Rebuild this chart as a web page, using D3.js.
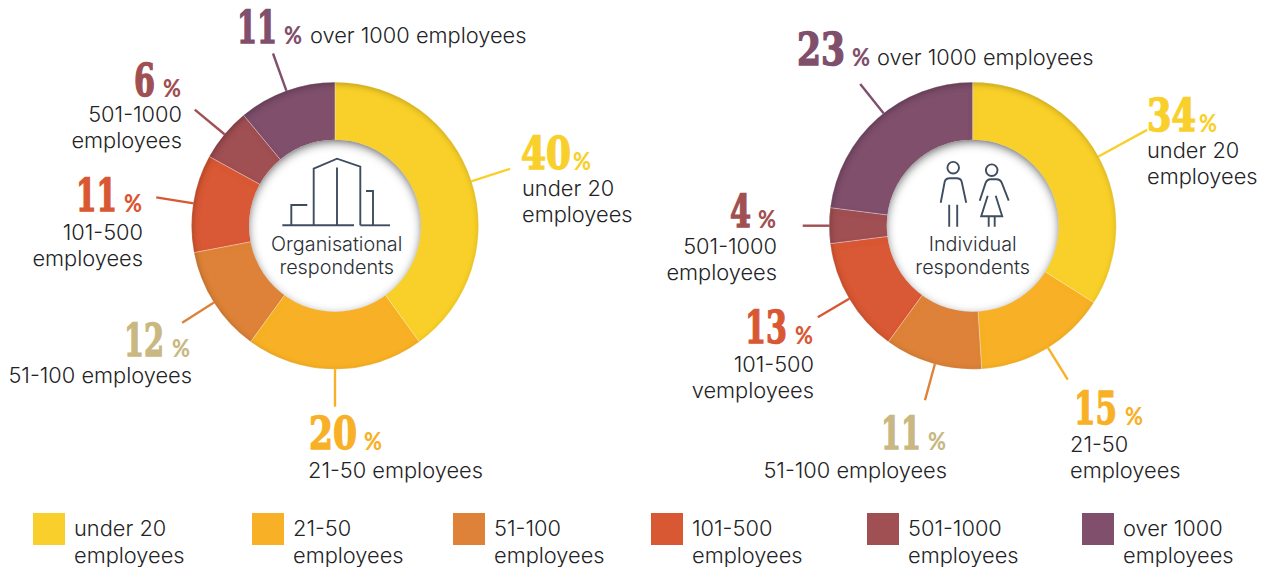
<!DOCTYPE html>
<html><head><meta charset="utf-8">
<script src="https://cdn.jsdelivr.net/npm/d3@7"></script>
<style>html,body{margin:0;padding:0;background:#fff;overflow:hidden}svg{display:block}
.t{font-family:"Inter","Lato",sans-serif;font-weight:300;font-size:21.8px;fill:#232325}
.n{font-family:"DejaVu Serif",serif;font-weight:700;font-size:44px;stroke-width:1.5px}
.p{font-family:"Lato",sans-serif;font-weight:900;font-size:24px}
.c{font-family:"Inter",sans-serif;font-weight:300;font-size:19.8px;fill:#2b2f36;text-anchor:middle}
</style></head><body><svg id="c" width="1266" height="567"></svg>
<script>
const categories=["under 20 employees","21-50 employees","51-100 employees","101-500 employees","501-1000 employees","over 1000 employees"];
const legendLines=[["under 20","employees"],["21-50","employees"],["51-100","employees"],["101-500","employees"],["501-1000","employees"],["over 1000","employees"]];
const organisational=[40,20,12,11,6,11];
const individual=[34,15,11,13,4,23];
const colours=["#F9D02B","#F8B127","#DD8238","#D95834","#A04F52","#7F4F6C"];
const numberColours=["#F9D02B","#F8B127","#C9B882","#D95834","#A04F52","#7F4F6C"];
const orgText=[["under 20","employees"],["21-50 employees"],["51-100 employees"],["101-500","employees"],["501-1000","employees"],["over 1000 employees"]];
const indText=[["under 20","employees"],["21-50","employees"],["51-100 employees"],["101-500","vemployees"],["501-1000","employees"],["over 1000 employees"]];
// layout: [number right x, number width, number baseline, percent x, text x, text anchor, text baseline]
const orgLayout=[[571,50,169,573,522,"start",196],[357,48,449,364,308,"start",478],[164,40,356,172,192,"end",383],[117,41,211,124,143,"end",240],[155,21,96,163,182,"end",122],[277,40,43,284,310,"start",43]];
const indLayout=[[1196,49,131,1199,1147,"start",158],[1117,43,424,1125,1070,"start",452],[921,40,449,928,947,"end",478],[787,42,343,795,814,"end",372],[751,21,227,758,777,"end",254],[845,48,65,852,877,"start",65]];
const orgReach=[184,181,181,181,182,183];
const indReach=[199,181,181,180,170,181];
const orgLeaderFrac=[.5,.5,.5,.5,.5,.5];
const indLeaderFrac=[.5,.48,.477,.5,.5,.536];
const legendX=[33,252,453,651,867,1082];

const svg=d3.select("#c");
const defs=svg.append("defs");
function inner(id,dx,dy,blur,op){
  const f=defs.append("filter").attr("id",id).attr("x","-10%").attr("y","-10%").attr("width","120%").attr("height","120%");
  f.append("feOffset").attr("in","SourceAlpha").attr("dx",dx).attr("dy",dy).attr("result","o");
  f.append("feGaussianBlur").attr("in","o").attr("stdDeviation",blur).attr("result","b");
  f.append("feComposite").attr("in","SourceAlpha").attr("in2","b").attr("operator","out").attr("result","s");
  f.append("feFlood").attr("flood-color","#000").attr("flood-opacity",op);
  f.append("feComposite").attr("in2","s").attr("operator","in").attr("result","sh");
  const m=f.append("feMerge");m.append("feMergeNode").attr("in","SourceGraphic");m.append("feMergeNode").attr("in","sh");
}
inner("ringShade",1,2,3.2,.5);
inner("holeShade",0,2.5,5,.95);

const R=143.5,r=86;
const pie=d3.pie().sort(null).value(d=>d);
const arc=d3.arc().innerRadius(70).outerRadius(R);

function donut(cx,cy,values,layout,texts,reach,frac){
  const g=svg.append("g").attr("transform",`translate(${cx},${cy})`);
  const arcs=pie(values);
  arcs.forEach((a,i)=>{
    const m=a.startAngle+(a.endAngle-a.startAngle)*frac[i],s=Math.sin(m),c=-Math.cos(m);
    g.append("line").attr("x1",s*(R-2)).attr("y1",c*(R-2)).attr("x2",s*reach[i]).attr("y2",c*reach[i])
      .attr("stroke",colours[i]).attr("stroke-width",2.4);
  });
  g.append("g").attr("filter","url(#ringShade)").selectAll("path").data(arcs).join("path")
    .attr("d",arc).attr("fill",(d,i)=>colours[i]);
  g.append("g").selectAll("path").data(arcs).join("path").attr("d",arc).attr("fill","none")
    .attr("stroke","rgba(255,255,255,.3)").attr("stroke-width",.7);
  g.append("circle").attr("r",r).attr("fill","#fff").attr("filter","url(#holeShade)");
  values.forEach((v,i)=>{
    const [nx,nw,ny,px,tx,anc,ty]=layout[i];
    svg.append("text").attr("class","n").attr("x",nx-nw).attr("y",ny).attr("textLength",nw).attr("lengthAdjust","spacingAndGlyphs")
      .attr("fill",numberColours[i]).attr("stroke",numberColours[i]).text(v);
    svg.append("text").attr("class","p").attr("x",px).attr("y",ny+1).attr("textLength",18).attr("lengthAdjust","spacingAndGlyphs").attr("fill",numberColours[i]).text("%");
    texts[i].forEach((l,k)=>svg.append("text").attr("class","t").attr("x",tx).attr("y",ty+k*26).attr("text-anchor",anc).text(l));
  });
  return g;
}
const cy=225.7;
const gL=donut(335,cy,organisational,orgLayout,orgText,orgReach,orgLeaderFrac);
const gR=donut(972.7,cy,individual,indLayout,indText,indReach,indLeaderFrac);

const ink={fill:"none",stroke:"#3f4d60","stroke-width":1.9};
function stroke(sel){Object.entries(ink).forEach(([k,v])=>sel.attr(k,v));return sel;}
// building icon
const bx=gL.append("g");
["M-52.7,-.4H19","M25.3,-.4H55","M-43.7,-.4V-20.7H-27.7","M-21.3,-.4V-57L2,-67L25.3,-59V-.4","M2,-58.3V-.4","M31,-34.7H38V-.4"].forEach(d=>stroke(bx.append("path").attr("d",d)));
gL.append("text").attr("class","c").attr("x",1.7).attr("y",25).text("Organisational");
gL.append("text").attr("class","c").attr("x",1.7).attr("y",48.5).text("respondents");
// people icon
const pp=gR.append("g");
stroke(pp.append("circle").attr("cx",-19.5).attr("cy",-58).attr("r",5.8));
stroke(pp.append("circle").attr("cx",19).attr("cy",-55.5).attr("r",5.8));
["M-32,-23L-28,-44Q-27,-47.5,-23,-47.5H-16Q-12,-47.5,-11,-44L-6.5,-23","M-23.5,-21V1M-15.5,-21V1",
 "M7,-25L13,-43Q14.5,-46.5,18,-46.5H24Q27.5,-46.5,29,-43L36,-25","M15,-30L8.5,-9.5H29.5L23,-30","M16,-9.5V1M22,-9.5V1"].forEach(d=>stroke(pp.append("path").attr("d",d)));
gR.append("text").attr("class","c").attr("y",25).attr("x",0).text("Individual");
gR.append("text").attr("class","c").attr("y",48.5).attr("x",0).text("respondents");

// legend
const lg=svg.append("g");
categories.forEach((c,i)=>{
  lg.append("rect").attr("x",legendX[i]).attr("y",513).attr("width",32).attr("height",32).attr("fill",colours[i]);
  legendLines[i].forEach((l,k)=>lg.append("text").attr("class","t").attr("x",legendX[i]+41).attr("y",536+k*27).text(l));
});
</script></body></html>
